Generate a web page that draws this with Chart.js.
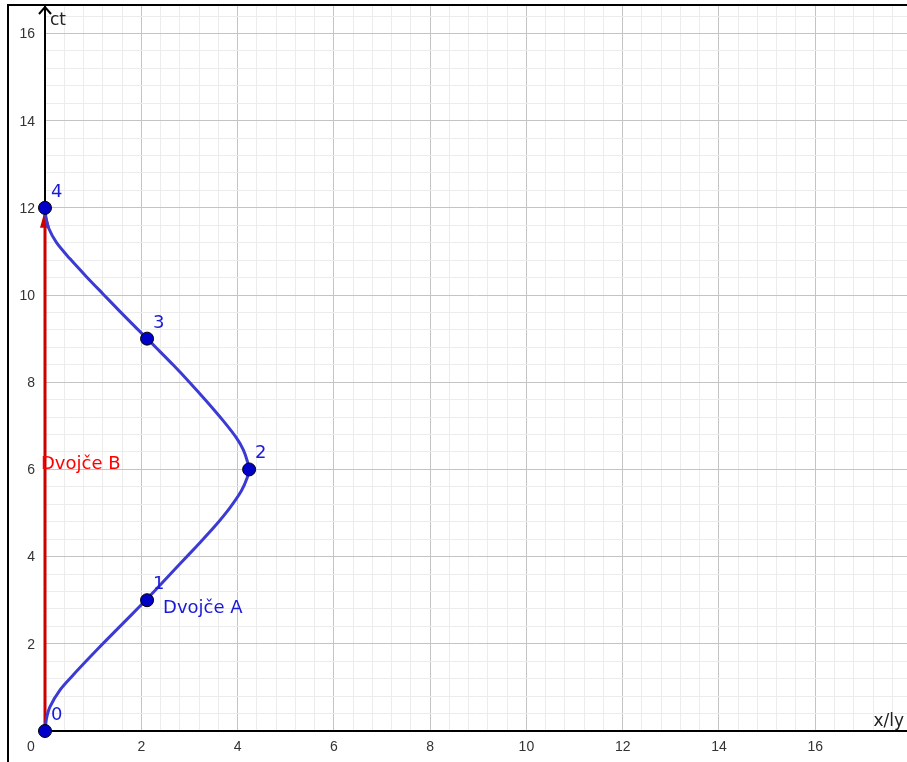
<!DOCTYPE html>
<html>
<head>
<meta charset="utf-8">
<script src="https://cdn.jsdelivr.net/npm/chart.js@4.4.0/dist/chart.umd.min.js"></script>
<style>
  html, body { margin: 0; padding: 0; background: #fff; }
</style>
</head>
<body>
<canvas id="spacetime" width="907" height="762"></canvas>
<script>
// Dvojče A worldline (x in ly, ct in years)
const twinA_x  = [0, 0.03, 0.10, 0.31, 0.59, 0.93, 1.28, 1.63, 1.97, 2.12, 2.46, 2.80, 3.15, 3.50, 3.84, 4.08, 4.20, 4.24,
                  4.20, 4.12, 3.98, 3.70, 3.36, 3.01, 2.66, 2.32, 2.12, 1.90, 1.56, 1.21, 0.87, 0.52, 0.24, 0.07, 0.02, 0];
const twinA_ct = [0, 0.28, 0.55, 0.94, 1.29, 1.69, 2.09, 2.48, 2.86, 3.03, 3.43, 3.83, 4.24, 4.66, 5.12, 5.51, 5.81, 6.00,
                  6.20, 6.45, 6.72, 7.12, 7.56, 7.99, 8.40, 8.78, 9.00, 9.24, 9.62, 10.02, 10.41, 10.83, 11.20, 11.55, 11.78, 12];
// Dvojče B stays home
const twinB_x  = [0, 0];
const twinB_ct = [0, 12];
// marked events
const event_x  = [0, 2.12, 4.24, 2.12, 0];
const event_ct = [0, 3, 6, 9, 12];
const event_labels = ['0', '1', '2', '3', '4'];
// axis numbers
const xTickLabels = [2, 4, 6, 8, 10, 12, 14, 16];
const yTickLabels = [2, 4, 6, 8, 10, 12, 14, 16];

const colorA = '#3b3bd4';
const colorDot = '#0000c8';
const colorB = '#cc0000';
const txtBlue = '#1a1ad8';

const isMajor = v => Math.abs(v / 2 - Math.round(v / 2)) < 1e-6;

const decorations = {
    id: 'decorations',
    afterDatasetDraw(chart, args) {
        if (args.index !== 2) return;
        // arrow head at the end of B's worldline
        const ctx = chart.ctx;
        const px = chart.scales.x.getPixelForValue(twinB_x[1]);
        const py = chart.scales.y.getPixelForValue(twinB_ct[1]);
        ctx.save();
        ctx.fillStyle = colorB;
        ctx.beginPath();
        ctx.moveTo(px, py + 2);
        ctx.lineTo(px - 5, py + 20);
        ctx.lineTo(px + 5, py + 20);
        ctx.closePath();
        ctx.fill();
        ctx.restore();
    },
    afterDraw(chart) {
        const ctx = chart.ctx;
        const xs = chart.scales.x, ys = chart.scales.y;
        const x0 = xs.getPixelForValue(0), y0 = ys.getPixelForValue(0);
        ctx.save();
        // view frame
        ctx.fillStyle = '#000';
        ctx.fillRect(7, 4, 2, 758);
        ctx.fillRect(7, 4, 900, 2);
        // arrow on ct axis
        ctx.strokeStyle = '#000';
        ctx.lineWidth = 2;
        ctx.beginPath();
        ctx.moveTo(x0, chart.chartArea.top);
        ctx.lineTo(x0, 7);
        ctx.moveTo(x0 - 6, 14);
        ctx.lineTo(x0, 7);
        ctx.lineTo(x0 + 6, 14);
        ctx.stroke();

        // axis numbers
        ctx.fillStyle = '#333';
        ctx.font = '14px "Liberation Sans", Arial, sans-serif';
        ctx.textAlign = 'center';
        ctx.textBaseline = 'top';
        xTickLabels.forEach(v => ctx.fillText(String(v), xs.getPixelForValue(v), y0 + 9));
        ctx.fillText('0', x0 - 14, y0 + 9);
        ctx.textAlign = 'right';
        ctx.textBaseline = 'middle';
        yTickLabels.forEach(v => ctx.fillText(String(v), x0 - 10, ys.getPixelForValue(v) + 1));

        // axis names
        ctx.fillStyle = '#222';
        ctx.font = '17px "DejaVu Sans", sans-serif';
        ctx.textAlign = 'left';
        ctx.textBaseline = 'alphabetic';
        ctx.fillText('ct', x0 + 5, 25);
        ctx.textAlign = 'right';
        ctx.fillText('x/ly', 904, y0 - 5);

        // event numbers
        ctx.fillStyle = txtBlue;
        ctx.font = '18px "DejaVu Sans", sans-serif';
        ctx.textAlign = 'left';
        event_labels.forEach((t, i) => {
            ctx.fillText(t, xs.getPixelForValue(event_x[i]) + 6, ys.getPixelForValue(event_ct[i]) - 11);
        });
        // names of the twins
        ctx.fillText('Dvojče A', xs.getPixelForValue(event_x[1]) + 16, ys.getPixelForValue(event_ct[1]) + 13);
        ctx.fillStyle = '#ff0000';
        ctx.fillText('Dvojče B', xs.getPixelForValue(twinB_x[0]) - 4, ys.getPixelForValue(event_ct[2]));
        ctx.restore();
    }
};

const gridOpts = {
    drawTicks: false,
    color: c => c.tick.value === 0 ? '#000' : (isMajor(c.tick.value) ? '#c4c4c4' : '#ececec'),
    lineWidth: c => c.tick.value === 0 ? 2 : 1
};

new Chart('spacetime', {
    type: 'scatter',
    data: {
        datasets: [{
            data: event_x.map((x, i) => ({x: x, y: event_ct[i]})),
            backgroundColor: colorDot,
            borderColor: '#000',
            borderWidth: 1,
            pointRadius: 6.5,
            clip: false
        }, {
            data: twinA_x.map((x, i) => ({x: x, y: twinA_ct[i]})),
            showLine: true,
            borderColor: colorA,
            borderWidth: 3,
            tension: 0.3,
            pointRadius: 0,
            clip: false
        }, {
            data: twinB_x.map((x, i) => ({x: x, y: twinB_ct[i]})),
            showLine: true,
            borderColor: colorB,
            borderWidth: 3,
            pointRadius: 0,
            clip: false
        }]
    },
    options: {
        responsive: false,
        animation: false,
        events: [],
        layout: { autoPadding: false, padding: { left: 45, top: 6, right: 0, bottom: 31 } },
        plugins: { legend: { display: false }, tooltip: { enabled: false } },
        scales: {
            x: {
                type: 'linear', min: 0, max: 17.906,
                ticks: { display: false, stepSize: 0.4, includeBounds: false },
                grid: gridOpts,
                border: { display: true, color: '#000', width: 2 }
            },
            y: {
                type: 'linear', min: 0, max: 16.63,
                ticks: { display: false, stepSize: 0.4, includeBounds: false },
                grid: gridOpts,
                border: { display: true, color: '#000', width: 2 }
            }
        }
    },
    plugins: [decorations]
});
</script>
</body>
</html>
